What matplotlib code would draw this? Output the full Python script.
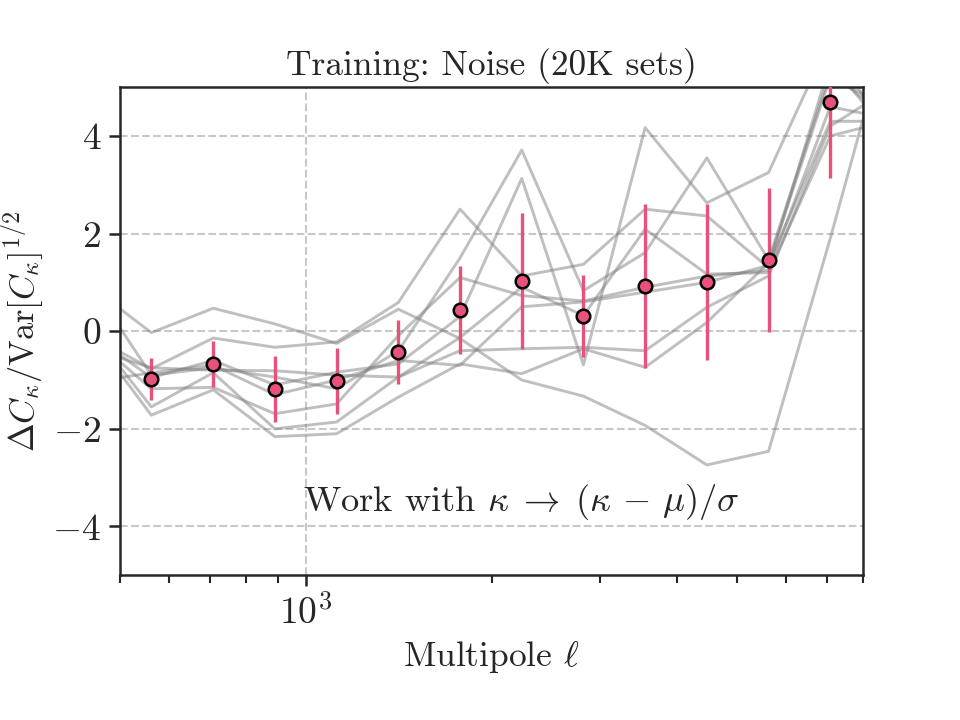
import numpy as np
import matplotlib
matplotlib.use('Agg')
import matplotlib.pyplot as plt
from matplotlib.ticker import FixedLocator, FuncFormatter, LogLocator, NullFormatter


# bin centres (multipole) for the mean points and for the individual realisations
ell = [562, 708, 891, 1122, 1413, 1778, 2239, 2818, 3548, 4467, 5623, 7079]
ell_sims = [447, 562, 708, 891, 1122, 1413, 1778, 2239, 2818, 3548, 4467, 5623, 7079, 8913]

mean_dc = [-0.98, -0.67, -1.18, -1.02, -0.43, 0.44, 1.03, 0.32, 0.93, 1.01, 1.46, 4.69]
err_dc = [0.43, 0.47, 0.67, 0.68, 0.65, 0.90, 1.39, 0.84, 1.68, 1.60, 1.47, 1.55]

# single realisations (grey)
sim1 = [0.93, -0.03, 0.47, 0.15, -0.25, 0.45, -0.15, -1.00, -1.33, -1.93, -2.74, -2.46, 1.90, 6.50]
sim2 = [1.00, -0.90, -0.75, -0.94, -1.18, -0.40, 1.50, 3.71, 0.83, 1.61, 3.55, 1.46, 5.30, 4.30]
sim3 = [-0.09, -0.77, -0.14, -0.33, -0.22, 0.59, 2.50, 1.13, 1.37, 2.50, 2.36, 1.30, 5.50, 3.96]
sim4 = [-0.05, -0.95, -0.60, -1.10, -0.84, -0.67, 0.30, 3.13, -0.69, 4.17, 2.63, 3.25, 6.00, 3.76]
sim5 = [-0.35, -0.75, -0.80, -0.81, -0.90, -0.94, -0.13, 0.90, 0.32, 2.09, 1.17, 1.20, 4.00, 4.32]
sim6 = [-0.10, -1.18, -1.15, -1.69, -1.49, -0.09, 1.10, 0.73, 0.62, 0.90, 1.13, 1.25, 4.60, 4.34]
sim7 = [0.05, -1.55, -0.85, -2.00, -1.86, -0.94, -0.40, -0.36, -0.33, -0.40, 0.49, 1.13, 4.20, 5.00]
sim8 = [-0.04, -1.72, -1.20, -2.16, -2.10, -1.35, -0.67, -0.87, -0.36, -0.74, 0.18, 1.40, 5.20, 4.56]
sim9 = [-1.05, -0.85, -0.70, -1.30, -1.00, -0.60, -0.70, 0.50, 0.60, 0.80, 1.00, 1.35, 4.30, 4.30]
sims = [sim1, sim2, sim3, sim4, sim5, sim6, sim7, sim8, sim9]

pink = '#e8517b'
ink = '#262626'

plt.rcParams['font.family'] = 'serif'
plt.rcParams['font.serif'] = ['cmr10']
plt.rcParams['mathtext.fontset'] = 'cm'
plt.rcParams['axes.formatter.use_mathtext'] = True
plt.rcParams['font.size'] = 17


def main():
    fig, ax = plt.subplots(figsize=(6.4, 4.8), dpi=150)
    fig.subplots_adjust(left=0.125, right=0.899, top=0.879, bottom=0.201)

    for s in sims:
        ax.plot(ell_sims, s, color='grey', alpha=0.5, lw=1.4, zorder=2)

    ax.errorbar(ell, mean_dc, yerr=err_dc, fmt='o', color=pink, ecolor=pink,
                elinewidth=1.6, capsize=0, ms=6.5, mec='k', mew=1.2, zorder=4)

    ax.set_xscale('log')
    ax.set_xlim(500, 8000)
    ax.set_ylim(-5, 5)

    ax.xaxis.set_major_locator(FixedLocator([1000]))
    ax.xaxis.set_major_formatter(FuncFormatter(lambda v, p: r'$10^3$'))
    ax.xaxis.set_minor_locator(LogLocator(base=10, subs=np.arange(2, 10)))
    ax.xaxis.set_minor_formatter(NullFormatter())
    ax.set_yticks([-4, -2, 0, 2, 4])
    ax.yaxis.set_major_formatter(FuncFormatter(lambda v, p: r'$%d$' % v))

    ax.grid(True, which='major', ls='--', color='#c8c8c8', lw=1.0, zorder=0)
    ax.set_axisbelow(True)

    for sp in ax.spines.values():
        sp.set_color(ink)
        sp.set_linewidth(1.2)
    ax.tick_params(which='major', direction='out', length=5.5, width=1.2, color=ink,
                   labelsize=18, labelcolor=ink)
    ax.tick_params(which='minor', direction='out', length=3.8, width=1.0, color=ink)

    ax.set_title('Training: Noise (20K sets)', fontsize=17, color=ink)
    ax.set_xlabel(r'Multipole $\ell$', fontsize=17, color=ink)
    ax.set_ylabel(r'$\Delta C_\kappa/\mathrm{Var}[C_\kappa]^{1/2}$', fontsize=16.5, color=ink)
    ax.yaxis.set_label_coords(-0.099, 0.5)
    ax.text(0.54, 0.15, r'Work with $\kappa \;\rightarrow\; (\kappa \,-\, \mu)/\sigma$',
            transform=ax.transAxes, ha='center', va='center', fontsize=17.5, color=ink)

    fig.savefig('out.png', dpi=150)


if __name__ == "__main__":
    main()
